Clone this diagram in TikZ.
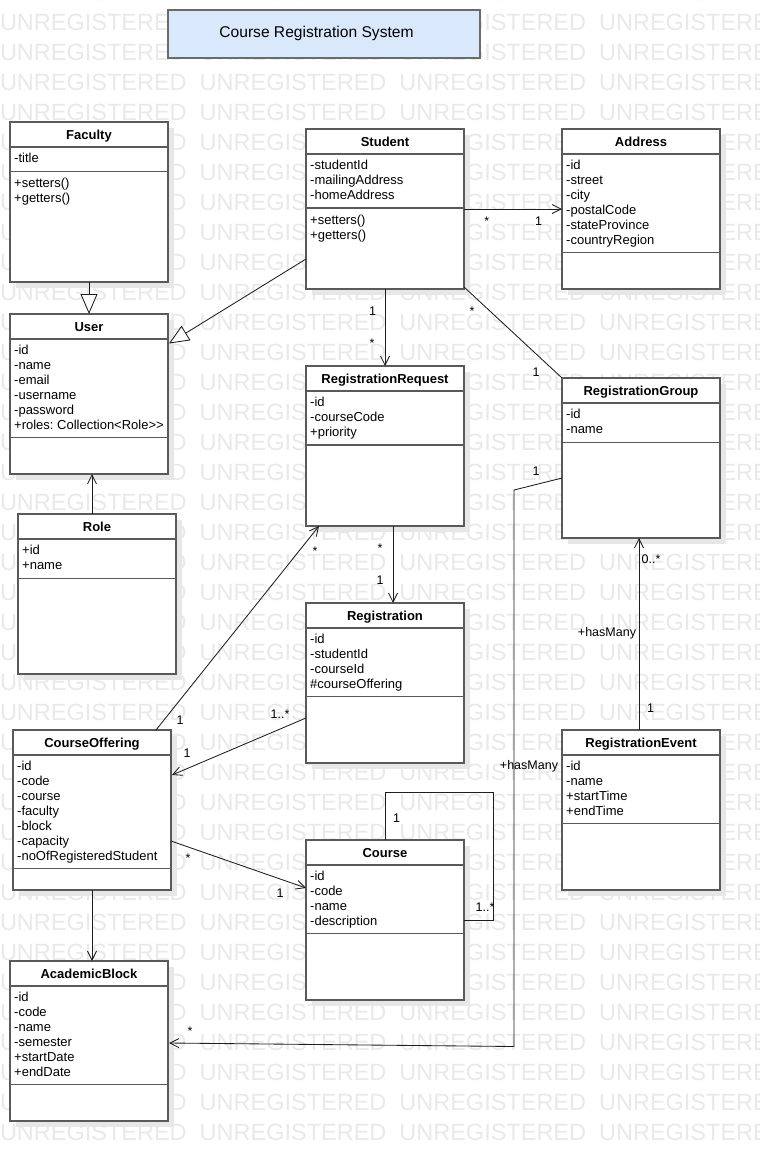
\documentclass[tikz,border=0pt]{standalone}
\usepackage{fontspec}
\setmainfont{Liberation Sans}
\usetikzlibrary{arrows.meta,calc}
\definecolor{wm}{HTML}{E9E9E9}
\definecolor{shadowc}{HTML}{E7E7E7}
\definecolor{boxline}{HTML}{5A5A5A}
\definecolor{titlefill}{HTML}{DAE8FC}
\definecolor{titleline}{HTML}{6B6B6B}
\definecolor{connc}{HTML}{1E1E1E}
\tikzset{
  classbox/.style={draw=boxline, line width=1.2pt, fill=white, anchor=north west,
    minimum width=158pt, minimum height=160pt, inner sep=0pt, outer sep=0pt},
  sepline/.style={draw=boxline, line width=1.2pt},
  ctitle/.style={font=\bfseries\fontsize{13}{15}\selectfont, inner sep=0pt, text height=9.5pt, text depth=0pt},
  attr/.style={font=\frenchspacing\fontsize{13}{15}\selectfont, anchor=west, inner sep=0pt, text height=9.5pt, text depth=0pt},
  mult/.style={font=\fontsize{12.5}{15}\selectfont, inner sep=0pt, text height=9.3pt, text depth=0pt},
  rolelabel/.style={font=\fontsize{12.5}{15}\selectfont, inner sep=0pt},
  conn/.style={draw=connc, line width=0.85pt},
  nav/.style={-{Straight Barb[length=9pt,width=9pt]}},
  gen/.style={-{Triangle[length=20pt,width=17pt,fill=white]}},
  wmtext/.style={font=\fontsize{23.5}{28}\selectfont, text=wm, anchor=west, inner sep=0pt, text height=16.8pt, text depth=0pt},
  titlebox/.style={draw=titleline, fill=titlefill, line width=1.2pt, anchor=north west,
    minimum width=312pt, minimum height=48pt, inner sep=0pt, outer sep=0pt},
  titletext/.style={font=\fontsize{15.6}{18}\selectfont, inner sep=0pt, text height=10.9pt, text depth=0pt},
}
% name, x, y, title, number of attributes, attributes
\newcommand{\umlclass}[6]{%
  \fill[shadowc] ({#2+6},{#3+6}) rectangle ({#2+164},{#3+166});
  \node[classbox] (#1) at (#2,#3) {};
  \node[ctitle] (#1-title) at ({#2+79},{#3+12.5}) {#4};
  \draw[sepline] ($(#1.north west)+(0,25)$) -- ($(#1.north east)+(0,25)$);
  \draw[sepline] ($(#1.north west)+(0,{34.5+14.8*#5})$) -- ($(#1.north east)+(0,{34.5+14.8*#5})$);
  \foreach \aa [count=\ii] in {#6} {\node[attr] (#1-a\ii) at ({#2+4},{#3+36+15*(\ii-1)}) {\aa};}
}
% name, x, y of first method, methods
\newcommand{\umlmethods}[4]{%
  \foreach \aa [count=\ii] in {#4} {\node[attr] (#1-m\ii) at ({#2+4},{#3+15*(\ii-1)}) {\aa};}
}
\begin{document}
\begin{tikzpicture}[x=1pt,y=-1pt]
\useasboundingbox (0,0) rectangle (760,1162);
\fill[white] (0,0) rectangle (760,1162);
% watermark
\begin{scope}
\clip (0,0) rectangle (760,1162);
\foreach \r in {-1,...,37} {
  \foreach \c in {0,...,3} {
    \node[wmtext] (wm-\r-\c) at ({199.7*\c-0.2},{21.7+30*\r}) {UNREGISTERED};
  }
}
\end{scope}

% title
\node[titlebox] (titlebox) at (168,10) {};
\node[titletext] (titletext) at (316.5,32.5) {Course Registration System};

% classes
\umlclass{faculty}{10}{122}{Faculty}{1}{-title}
\umlmethods{faculty}{10}{182.5}{+setters(),+getters()}
\umlclass{student}{306}{129}{Student}{3}{-studentId,-mailingAddress,-homeAddress}
\umlmethods{student}{306}{220}{+setters(),+getters()}
\umlclass{address}{562}{129}{Address}{6}{-id,-street,-city,-postalCode,-stateProvince,-countryRegion}
\umlclass{user}{10}{314}{User}{6}{-id,-name,-email,-username,-password,+roles: Collection<Role>{}>}
\umlclass{rr}{306}{366}{RegistrationRequest}{3}{-id,-courseCode,+priority}
\umlclass{rg}{562}{378}{RegistrationGroup}{2}{-id,-name}
\umlclass{role}{18}{514}{Role}{2}{+id,+name}
\umlclass{reg}{306}{603}{Registration}{4}{-id,-studentId,-courseId,\#courseOffering}
\umlclass{co}{13}{730}{CourseOffering}{7}{-id,-code,-course,-faculty,-block,-capacity,-noOfRegisteredStudent}
\umlclass{re}{562}{730}{RegistrationEvent}{4}{-id,-name,+startTime,+endTime}
\umlclass{course}{306}{840}{Course}{4}{-id,-code,-name,-description}
\umlclass{ab}{10}{961}{AcademicBlock}{6}{-id,-code,-name,-semester,+startDate,+endDate}

% helper coordinates
\coordinate (bend1) at (514,490);
\coordinate (bend2) at (514,1046.5);
\coordinate (rolept) at ($(role.north west)+(74,0)$);
\coordinate (loop1) at (385,792);
\coordinate (loop2) at (493,792);
\coordinate (loop3) at (493,920);

% connectors
\draw[conn, gen] (faculty.south) -- (user.north);
\draw[conn, gen] ($(student.south west)+(0,-30)$) -- ($(user.north east)+(1,29.5)$);
\draw[conn, nav] (student.east) -- (address.west);
\draw[conn, nav] (student.south) -- (rr.north);
\draw[conn] ($(student.south east)+(0,-2)$) -- (rg.north west);
\draw[conn, nav] ($(rg.west)+(0,20)$) -- (bend1) -- (bend2) -- ($(ab.east)+(1,2)$);
\draw[conn, nav] (rolept) -- (rolept |- user.south);
\draw[conn, nav] ($(rr.south)+(8,0)$) -- ($(reg.north)+(8,0)$);
\draw[conn, nav] ($(co.north west)+(143,0)$) -- ($(rr.south west)+(13,0)$);
\draw[conn, nav] ($(reg.west)+(0,35)$) -- ($(co.east)+(1,-35)$);
\draw[conn, nav] ($(co.east)+(0,31)$) -- ($(course.west)+(0,-32)$);
\draw[conn, nav] (co.south) -- (co.south |- ab.north);
\draw[conn] (course.north) -- (loop1) -- (loop2) -- (loop3) -- (course.east);
\draw[conn, nav] ($(re.north)+(-2,0)$) -- ($(rg.south)+(-2,0)$);

% multiplicities and roles
\node[mult] (m-sa1) at (486.7,221.3) {*};
\node[mult] (m-sa2) at (538.5,221) {1};
\node[mult] (m-sr1) at (372.5,310.7) {1};
\node[mult] (m-sr2) at (372,343) {*};
\node[mult] (m-sg1) at (472,311) {*};
\node[mult] (m-sg2) at (536,372.3) {1};
\node[mult] (m-gb1) at (536,471) {1};
\node[rolelabel] (m-gb2) at (529,766.5) {+hasMany};
\node[mult] (m-gb3) at (190,1031) {*};
\node[mult] (m-rr1) at (380,548) {*};
\node[mult] (m-rr2) at (380,580) {1};
\node[mult] (m-cr1) at (315,551) {*};
\node[mult] (m-cr2) at (180,720) {1};
\node[mult] (m-rc1) at (280,714) {1..*};
\node[mult] (m-rc2) at (187,753) {1};
\node[mult] (m-cc1) at (188,858) {*};
\node[mult] (m-cc2) at (280,893) {1};
\node[mult] (m-lp1) at (396.7,818) {1};
\node[mult] (m-lp2) at (485,907.3) {1..*};
\node[mult] (m-eg1) at (651,559) {0..*};
\node[rolelabel] (m-eg2) at (607,633) {+hasMany};
\node[mult] (m-eg3) at (650.5,708) {1};
\end{tikzpicture}
\end{document}
